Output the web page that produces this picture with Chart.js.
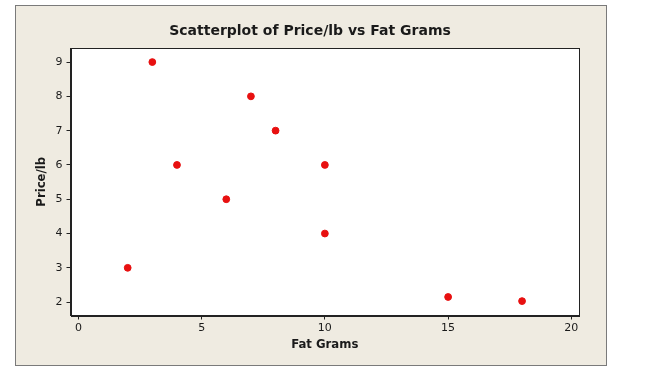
<!DOCTYPE html>
<html>
<head>
<meta charset="utf-8">
<script src="https://cdn.jsdelivr.net/npm/chart.js@4/dist/chart.umd.min.js"></script>
<style>
  html, body { margin: 0; padding: 0; background: #ffffff; }
  #wrap { width: 650px; height: 376px; position: relative; }
</style>
</head>
<body>
<div id="wrap"><canvas id="scatter"></canvas></div>
<script>
// --- Data ---
const fatGrams = [2, 3, 4, 6, 7, 8, 10, 10, 15, 18];
const pricePerLb = [3, 9, 6, 5, 8, 7, 6, 4, 2.15, 2.03];
const xTicks = [0, 5, 10, 15, 20];
const yTicks = [2, 3, 4, 5, 6, 7, 8, 9];

const chartTitle = 'Scatterplot of Price/lb vs Fat Grams';
const xTitle = 'Fat Grams';
const yTitle = 'Price/lb';

const textColor = '#1a1a1a';

// frame, plot box and title
const framePlugin = {
    id: 'frame',
    beforeDraw(chart) {
        const { ctx, chartArea } = chart;
        ctx.save();
        ctx.fillStyle = '#efebe1';
        ctx.fillRect(15, 5, 592, 361);
        ctx.strokeStyle = '#7a7a7a';
        ctx.lineWidth = 1;
        ctx.strokeRect(15.5, 5.5, 591, 360);
        ctx.fillStyle = '#ffffff';
        ctx.fillRect(chartArea.left, chartArea.top, chartArea.right - chartArea.left, chartArea.bottom - chartArea.top);
        ctx.fillStyle = textColor;
        ctx.font = 'bold 14px "DejaVu Sans", sans-serif';
        ctx.textAlign = 'center';
        ctx.textBaseline = 'middle';
        ctx.fillText(chartTitle, 310, 31);
        ctx.restore();
    },
    afterDatasetsDraw(chart) {
        const { ctx, chartArea } = chart;
        ctx.save();
        ctx.strokeStyle = '#222222';
        ctx.lineWidth = 1;
        ctx.strokeRect(Math.round(chartArea.left) + 0.5, Math.round(chartArea.top) + 0.5,
            Math.round(chartArea.right - chartArea.left) - 1, Math.round(chartArea.bottom - chartArea.top));
        ctx.restore();
    }
};

new Chart(document.getElementById('scatter'), {
    type: 'scatter',
    data: {
        datasets: [{
            label: 'Price/lb',
            data: fatGrams.map((x, i) => ({ x: x, y: pricePerLb[i] })),
            backgroundColor: '#e81010',
            borderColor: '#e81010',
            pointRadius: 3.4,
            pointHoverRadius: 3.4
        }]
    },
    options: {
        responsive: true,
        maintainAspectRatio: false,
        animation: false,
        events: [],
        layout: { padding: { left: 15, right: 71, top: 48, bottom: 10 } },
        plugins: {
            legend: { display: false },
            title: { display: false },
            tooltip: { enabled: false }
        },
        scales: {
            x: {
                type: 'linear',
                min: -0.32,
                max: 20.31,
                afterBuildTicks: (scale) => { scale.ticks = xTicks.map(v => ({ value: v })); },
                afterFit: (scale) => { scale.height = 50.5; },
                grid: { drawOnChartArea: false, drawTicks: true, tickLength: 4, color: '#222' },
                border: { display: true, color: '#222' },
                ticks: { color: textColor, padding: 2, maxRotation: 0, font: { family: '"DejaVu Sans", sans-serif', size: 11 } },
                title: {
                    display: true,
                    text: xTitle,
                    color: textColor,
                    padding: { top: 0, bottom: 14 },
                    font: { family: '"DejaVu Sans Condensed", "DejaVu Sans", sans-serif', size: 13, weight: 'bold' }
                }
            },
            y: {
                type: 'linear',
                min: 1.61,
                max: 9.41,
                afterBuildTicks: (scale) => { scale.ticks = yTicks.map(v => ({ value: v })); },
                afterFit: (scale) => { scale.width = 55.5; },
                grid: { drawOnChartArea: false, drawTicks: true, tickLength: 4, color: '#222' },
                border: { display: true, color: '#222' },
                ticks: { color: textColor, padding: 4, font: { family: '"DejaVu Sans", sans-serif', size: 11 } },
                title: {
                    display: true,
                    text: yTitle,
                    color: textColor,
                    padding: { top: 19, bottom: 0 },
                    font: { family: '"DejaVu Sans Condensed", "DejaVu Sans", sans-serif', size: 13, weight: 'bold' }
                }
            }
        }
    },
    plugins: [framePlugin]
});
</script>
</body>
</html>
